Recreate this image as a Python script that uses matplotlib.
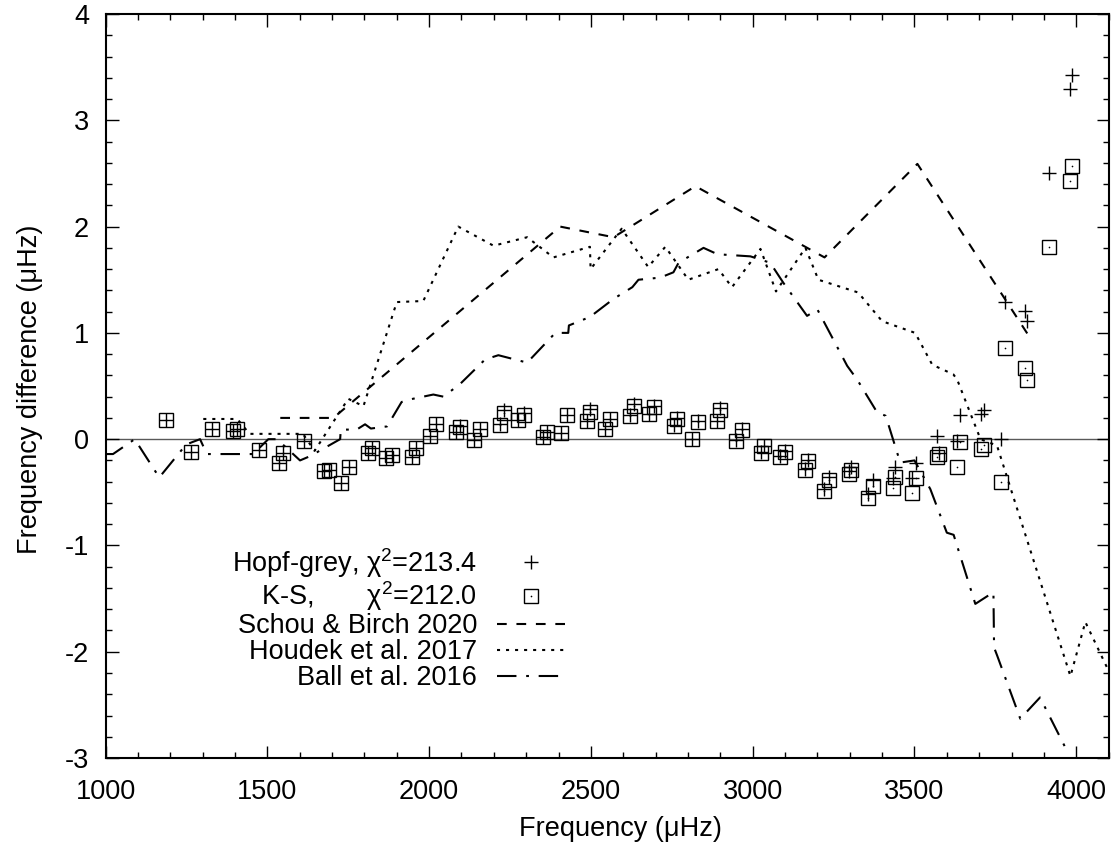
import matplotlib
matplotlib.use('Agg')
import matplotlib.pyplot as plt
from matplotlib.ticker import MultipleLocator
from matplotlib.legend_handler import HandlerTuple

plt.rcParams['font.family'] = ['Liberation Sans', 'DejaVu Sans']
plt.rcParams['mathtext.fontset'] = 'custom'
plt.rcParams['mathtext.rm'] = 'Liberation Sans'
plt.rcParams['mathtext.it'] = 'Liberation Sans:italic'
plt.rcParams['axes.unicode_minus'] = False
plt.rcParams['lines.scale_dashes'] = False

# mode frequencies (muHz) and differences for the two models
freq = [1186, 1264, 1329, 1395, 1407, 1473, 1536, 1548, 1613, 1675,
        1690, 1729, 1752, 1812, 1823, 1867, 1885, 1946, 1959, 2003,
        2022, 2083, 2094, 2139, 2158, 2220, 2230, 2276, 2294, 2353,
        2364, 2407, 2426, 2488, 2498, 2544, 2559, 2621, 2632, 2678,
        2694, 2758, 2766, 2812, 2830, 2891, 2900, 2949, 2967, 3027,
        3036, 3085, 3101, 3163, 3170, 3219, 3235, 3297, 3304, 3355,
        3371, 3434, 3441, 3491, 3506, 3570, 3577, 3630, 3642, 3706,
        3714, 3766, 3780, 3843, 3848, 3916, 3980, 3987]
ks = [0.18, -0.125, 0.094, 0.078, 0.094, -0.10, -0.22, -0.13, -0.016, -0.30,
      -0.29, -0.41, -0.26, -0.13, -0.08, -0.18, -0.15, -0.17, -0.08, 0.03,
      0.14, 0.063, 0.116, -0.01, 0.094, 0.13, 0.25, 0.18, 0.23, 0.016,
      0.07, 0.056, 0.23, 0.17, 0.26, 0.094, 0.19, 0.22, 0.31, 0.235,
      0.30, 0.125, 0.19, 0.0, 0.166, 0.17, 0.27, -0.016, 0.088, -0.13,
      -0.063, -0.17, -0.12, -0.29, -0.21, -0.49, -0.38, -0.33, -0.29, -0.55,
      -0.44, -0.46, -0.36, -0.51, -0.37, -0.17, -0.14, -0.26, -0.025, -0.094,
      -0.056, -0.40, 0.86, 0.67, 0.56, 1.81, 2.43, 2.57]
hopf = [0.18, -0.125, 0.094, 0.078, 0.094, -0.10, -0.22, -0.13, -0.016, -0.30,
        -0.29, -0.41, -0.26, -0.13, -0.08, -0.18, -0.15, -0.17, -0.08, 0.03,
        0.14, 0.07, 0.12, -0.01, 0.10, 0.14, 0.27, 0.18, 0.25, 0.02,
        0.07, 0.06, 0.23, 0.17, 0.28, 0.10, 0.19, 0.23, 0.33, 0.24,
        0.31, 0.13, 0.20, 0.0, 0.17, 0.17, 0.29, -0.01, 0.10, -0.12,
        -0.06, -0.16, -0.11, -0.28, -0.20, -0.47, -0.36, -0.30, -0.26, -0.52,
        -0.38, -0.37, -0.26, -0.37, -0.22, 0.03, -0.13, -0.016, 0.226, 0.235,
        0.276, 0.0, 1.29, 1.21, 1.11, 2.50, 3.29, 3.43]

schou_f = [1540, 1704, 2405, 2570, 2823, 3222, 3509, 3858]
schou_v = [0.2, 0.2, 2.0, 1.9, 2.38, 1.71, 2.59, 0.95]

houdek_f = [1302, 1407, 1445, 1610, 1646, 1750, 1797, 1900, 1982, 2090,
            2199, 2303, 2384, 2497, 2499, 2595, 2677, 2730, 2801, 2894,
            2936, 3024, 3072, 3163, 3203, 3326, 3400, 3502, 3555, 3620,
            3632, 3704, 3755, 3982, 4028, 4100]
houdek_v = [0.19, 0.19, 0.05, 0.05, -0.11, 0.38, 0.31, 1.29, 1.3, 2.0,
            1.82, 1.9, 1.71, 1.81, 1.6, 1.98, 1.62, 1.81, 1.5, 1.6,
            1.43, 1.79, 1.39, 1.8, 1.5, 1.38, 1.11, 1.0, 0.7, 0.61,
            0.56, 0.0, -0.06, -2.23, -1.72, -2.18]

ball_f = [1000, 1023, 1090, 1166, 1249, 1292, 1313, 1456, 1503, 1530,
          1601, 1632, 1725, 1727, 1776, 1802, 1820, 1870, 1915, 1950,
          2013, 2044, 2096, 2173, 2214, 2303, 2390, 2430, 2432, 2497,
          2570, 2628, 2647, 2714, 2755, 2771, 2848, 2891, 2993, 3054,
          3095, 3168, 3200, 3292, 3323, 3385, 3411, 3456, 3500, 3549,
          3600, 3621, 3688, 3744, 3746, 3756, 3827, 3888, 3971]
ball_v = [-0.14, -0.14, 0.0, -0.36, -0.05, 0.0, -0.14, -0.14, 0.0, 0.0,
          -0.2, -0.16, 0.0, 0.09, 0.09, 0.14, 0.1, 0.12, 0.35, 0.38,
          0.42, 0.4, 0.52, 0.75, 0.79, 0.72, 1.0, 1.0, 1.07, 1.15,
          1.32, 1.43, 1.5, 1.52, 1.57, 1.66, 1.8, 1.74, 1.72, 1.66,
          1.47, 1.16, 1.22, 0.69, 0.56, 0.25, 0.22, -0.22, -0.2, -0.47,
          -0.88, -0.9, -1.55, -1.44, -1.96, -2.04, -2.63, -2.43, -2.93]

fs = 19.5
fig = plt.figure(figsize=(11.17, 8.5), dpi=100)
ax = fig.add_axes([0.0945, 0.1082, 0.898, 0.8753])

ax.axhline(0, color='0.35', lw=1.0, zorder=1)

h_hopf, = ax.plot(freq, hopf, ls='none', marker='+', ms=10, mew=1.0, color='black')
h_ks, = ax.plot(freq, ks, ls='none', marker='s', ms=9.5, mew=1.0, mfc='none', mec='black')
h_dot, = ax.plot(freq, ks, ls='none', marker='o', ms=1.2, mew=0, color='black')
h_schou, = ax.plot(schou_f, schou_v, color='black', lw=1.5, ls=(0, (7, 7)))
h_houdek, = ax.plot(houdek_f, houdek_v, color='black', lw=1.5, ls=(0, (2.2, 4.3)))
h_ball, = ax.plot(ball_f, ball_v, color='black', lw=1.5, ls=(0, (14, 7, 2, 7)))

ax.set_xlim(1000, 4100)
ax.set_ylim(-3, 4)
ax.set_xticks([1000, 1500, 2000, 2500, 3000, 3500, 4000])
ax.xaxis.set_minor_locator(MultipleLocator(100))
ax.yaxis.set_major_locator(MultipleLocator(1))
ax.yaxis.set_minor_locator(MultipleLocator(0.2))
ax.tick_params(which='both', direction='in', top=True, right=True, width=1, labelsize=fs)
ax.tick_params(which='major', length=9)
ax.tick_params(which='minor', length=4.5)
ax.tick_params(axis='x', pad=15)
ax.tick_params(axis='y', pad=12)
for s in ax.spines.values():
    s.set_linewidth(1.5)

ax.set_xlabel('Frequency (μHz)', fontsize=fs)
ax.set_ylabel('Frequency difference (μHz)', fontsize=fs)
ax.xaxis.set_label_coords(0.513, -0.078)
ax.yaxis.set_label_coords(-0.062, 0.495)

labels = ['Hopf-grey, χ$^2$=213.4', 'K-S,       χ$^2$=212.0',
          'Schou & Birch 2020', 'Houdek et al. 2017', 'Ball et al. 2016']
ax.legend([h_hopf, (h_ks, h_dot), h_schou, h_houdek, h_ball], labels,
          handler_map={tuple: HandlerTuple(ndivide=1)},
          markerfirst=False, frameon=False, fontsize=fs, numpoints=1,
          handlelength=2.5, handletextpad=0.75, labelspacing=0.0,
          loc='center right', bbox_to_anchor=(0.458, 0.1875),
          borderpad=0, borderaxespad=0)

fig.savefig('out.png', dpi=100)
